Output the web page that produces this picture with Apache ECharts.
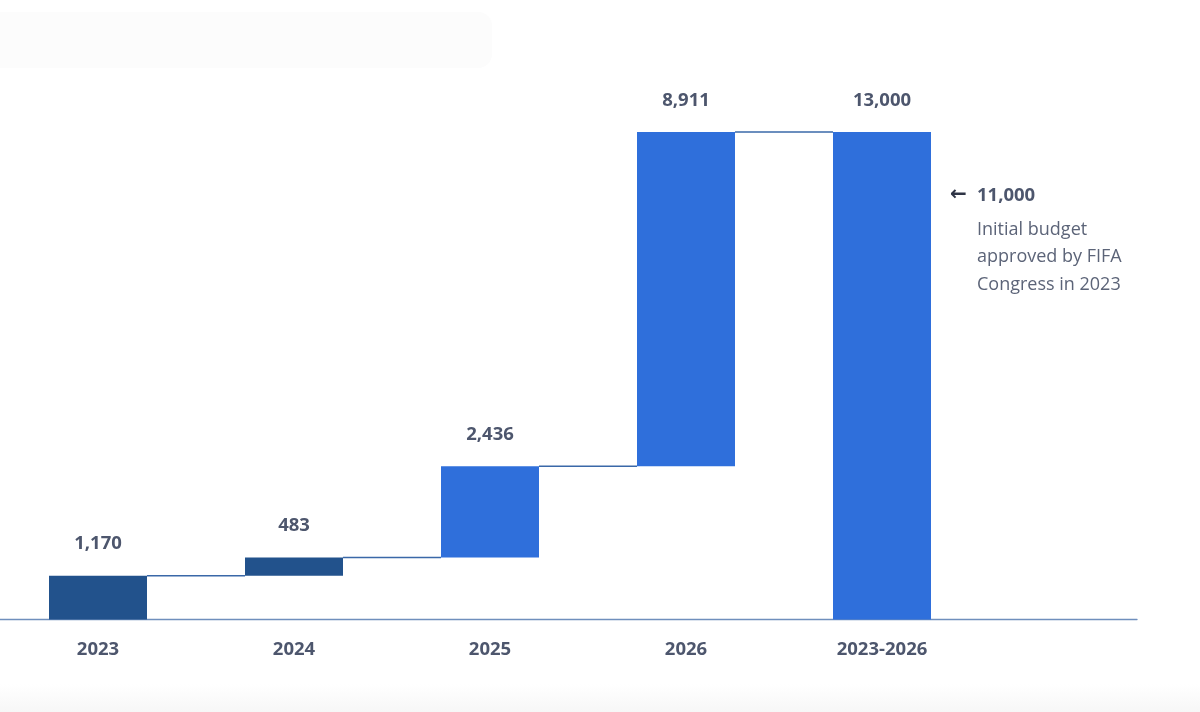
<!DOCTYPE html>
<html>
<head>
<meta charset="utf-8">
<script src="https://cdn.jsdelivr.net/npm/echarts@6/dist/echarts.min.js"></script>
<style>html,body{margin:0;padding:0;background:#fff}#c{width:1200px;height:712px}</style>
</head>
<body>
<div id="c"></div>
<script>
const categories = ['2023', '2024', '2025', '2026', '2023-2026'];
const increments = [1170, 483, 2436, 8911];
const total = 13000;
const labels = ['1,170', '483', '2,436', '8,911', '13,000'];
const initialBudget = 11000;
const initialBudgetLabel = '11,000';
const noteLines = ['Initial budget', 'approved by FIFA', 'Congress in 2023'];

// waterfall build
const bases = [];
const values = [];
let run = 0;
increments.forEach(v => { bases.push(run); values.push(v); run += v; });
bases.push(0); values.push(total);
const cumul = [];
run = 0;
increments.forEach(v => { run += v; cumul.push(run); });
const connectorData = cumul.map((c, i) => [i, c]);

const DARK = '#22528c';
const BRIGHT = '#2f6fdb';
const TXT = '#4d566d';
const FONT = '"Open Sans", "Noto Sans", sans-serif';
const BAR_W = 98;

const chart = echarts.init(document.getElementById('c'), null, { renderer: 'canvas' });
chart.setOption({
  animation: false,
  backgroundColor: '#ffffff',
  graphic: [
    { type: 'rect', shape: { x: 0, y: 12, width: 492, height: 56, r: [0, 14, 14, 0] }, style: { fill: '#fcfcfc' }, z: -10, silent: true },
    { type: 'rect', shape: { x: 0, y: 684, width: 1200, height: 28 },
      style: { fill: new echarts.graphic.LinearGradient(0, 0, 0, 1, [{ offset: 0, color: '#ffffff' }, { offset: 1, color: '#f7f7f7' }]) }, z: -10, silent: true }
  ],
  grid: [
    { left: 0, width: 980, top: 94.5, bottom: 92.5, containLabel: false },
    { left: 0, width: 1137, top: 94.5, bottom: 92.5, containLabel: false }
  ],
  xAxis: [
    {
      type: 'category', gridIndex: 0, data: categories,
      axisLine: { show: false }, axisTick: { show: false },
      axisLabel: { color: TXT, fontSize: 18.5, fontWeight: 'bold', fontFamily: FONT, margin: 21 }
    },
    {
      type: 'value', gridIndex: 1, min: 0, max: 1,
      axisLine: { show: true, onZero: false, lineStyle: { color: '#6f8fbd', width: 1.3 } },
      axisTick: { show: false }, axisLabel: { show: false }, splitLine: { show: false }
    }
  ],
  yAxis: [
    { type: 'value', gridIndex: 0, min: 0, max: 14000, show: false, splitLine: { show: false } },
    { type: 'value', gridIndex: 1, min: 0, max: 1, show: false, splitLine: { show: false } }
  ],
  series: [
    {
      type: 'custom', xAxisIndex: 0, yAxisIndex: 0, z: 1, silent: true,
      data: connectorData,
      renderItem: (params, api) => {
        const i = api.value(0), y = api.value(1);
        const a = api.coord([i, y]);
        const b = api.coord([i + 1, y]);
        return {
          type: 'line',
          shape: { x1: a[0] + BAR_W / 2, y1: a[1], x2: b[0] - BAR_W / 2, y2: b[1] },
          style: { stroke: '#3a68a8', lineWidth: 1.5 }
        };
      }
    },
    {
      type: 'bar', stack: 'w', xAxisIndex: 0, yAxisIndex: 0, barWidth: BAR_W,
      itemStyle: { color: 'transparent' }, data: bases, silent: true, z: 2
    },
    {
      type: 'bar', stack: 'w', xAxisIndex: 0, yAxisIndex: 0, barWidth: BAR_W, z: 3,
      data: values.map((v, i) => ({ value: v, itemStyle: { color: i < 2 ? DARK : BRIGHT } })),
      label: {
        show: true, position: 'top', distance: 22,
        formatter: p => labels[p.dataIndex],
        color: TXT, fontSize: 18.5, fontWeight: 'bold', fontFamily: FONT
      },
      markPoint: {
        symbol: 'circle', symbolSize: 0, silent: true, z: 6,
        data: [{ coord: [4, initialBudget], value: initialBudget }],
        label: {
          show: true, position: [68, -31], align: 'left', verticalAlign: 'top',
          formatter: '{a|←}{b|' + initialBudgetLabel + '}\n' + noteLines.map(t => '{c|' + t + '}').join('\n'),
          rich: {
            a: { width: 27, fontSize: 20, fontWeight: 'bold', color: '#2e3445', fontFamily: '"DejaVu Sans", sans-serif', lineHeight: 40, padding: [0, 0, 3, 0] },
            b: { fontSize: 18.5, fontWeight: 'bold', color: TXT, fontFamily: FONT, lineHeight: 40 },
            c: { fontSize: 18, color: '#5c6478', fontFamily: FONT, lineHeight: 27.5, padding: [0, 0, 0, 27] }
          }
        }
      }
    }
  ]
});
</script>
</body>
</html>
